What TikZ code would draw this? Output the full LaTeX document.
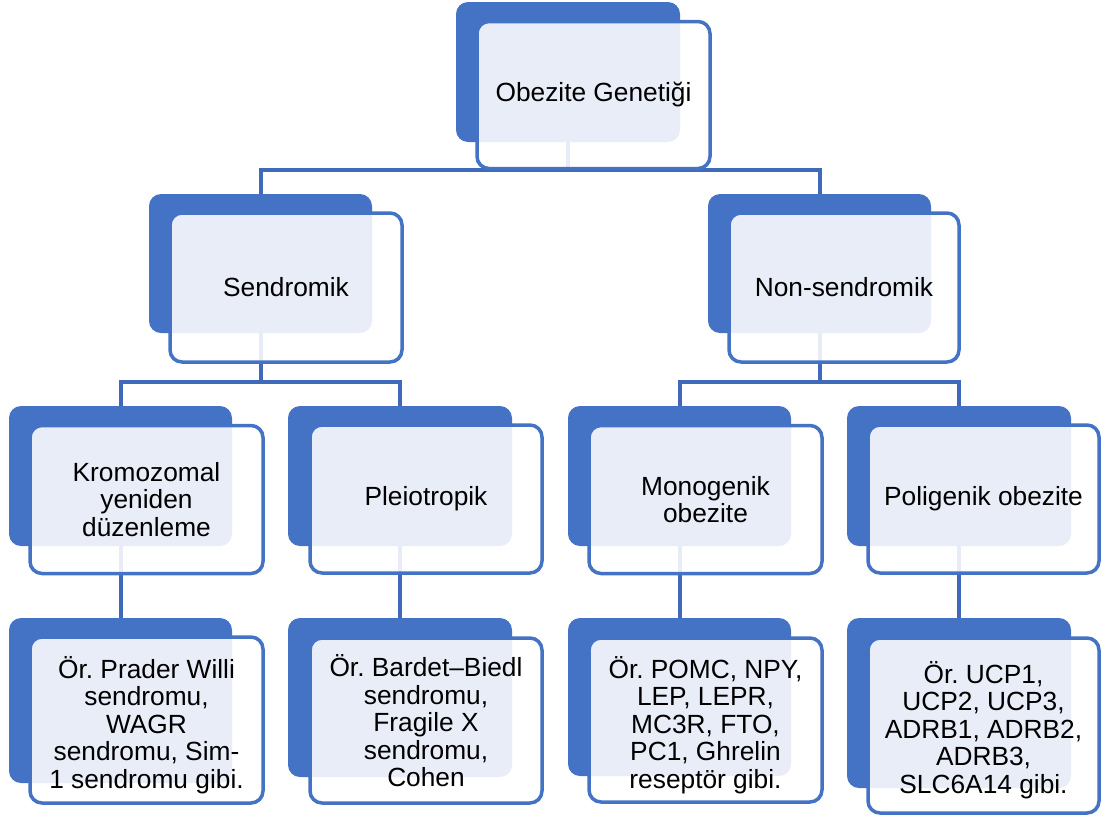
\documentclass[tikz,border=0pt]{standalone}
\usepackage{fontspec}
\setmainfont{Liberation Sans}
\usetikzlibrary{backgrounds}
\definecolor{sablue}{HTML}{4472C4}
\definecolor{conblue}{HTML}{4169BA}
\frenchspacing
\tikzset{
  darkbox/.style={draw=none, fill=sablue, rounded corners=12pt, inner sep=0pt},
  frontbox/.style={draw=sablue, line width=3.5pt, fill=white, fill opacity=0.88,
    text opacity=1, rounded corners=12pt, align=center, inner sep=0pt,
    font=\fontsize{26.3}{27.5}\selectfont},
  txt/.style={align=center, inner sep=0pt, font=\fontsize{26.3}{27.5}\selectfont},
  conn/.style={draw=conblue, line width=4pt}
}
\begin{document}
\begin{tikzpicture}[x=1pt,y=-1pt]
\useasboundingbox (0,0) rectangle (1103,820);
% level 1
\node[darkbox, minimum width=224, minimum height=140] (top-d) at (568,72) {};
\node[frontbox, minimum width=233, minimum height=147] (top) at (593.5,95) {Obezite Genetiği};
% level 2
\node[darkbox, minimum width=223, minimum height=139] (sen-d) at (260.5,263.5) {};
\node[frontbox, minimum width=232, minimum height=149] (sen) at (286,287.5) {Sendromik};
\node[darkbox, minimum width=223, minimum height=139] (non-d) at (819.5,263.5) {};
\node[frontbox, minimum width=230, minimum height=149] (non) at (844,287.5) {Non-sendromik};
% level 3
\node[darkbox, minimum width=223, minimum height=140] (kro-d) at (120.5,476) {};
\node[frontbox, minimum width=233, minimum height=148] (kro) at (146.5,499.5) {Kromozomal\\yeniden\\düzenleme};
\node[darkbox, minimum width=224, minimum height=140] (ple-d) at (400,476) {};
\node[frontbox, minimum width=232, minimum height=148] (ple) at (426,499) {Pleiotropik};
\node[darkbox, minimum width=223, minimum height=140] (mon-d) at (679.5,476) {};
\node[frontbox, minimum width=233, minimum height=148] (mon) at (705.5,499.5) {Monogenik\\obezite};
\node[darkbox, minimum width=224, minimum height=140] (pol-d) at (959,476) {};
\node[frontbox, minimum width=231, minimum height=148] (pol) at (983.5,499) {Poligenik obezite};
% level 4
\node[darkbox, minimum width=223, minimum height=165] (kro2-d) at (120.5,700.5) {};
\node[frontbox, minimum width=233, minimum height=166] (kro2) at (146.5,720) {};
\node[txt] (kro2-t) at (146.5,725) {Ör. Prader Willi\\sendromu,\\WAGR\\sendromu, Sim-\\1 sendromu gibi.};
\node[darkbox, minimum width=224, minimum height=159] (ple2-d) at (400,697.5) {};
\node[frontbox, minimum width=232, minimum height=165] (ple2) at (426,720.5) {};
\node[txt] (ple2-t) at (426,721) {Ör. Bardet–Biedl\\sendromu,\\Fragile X\\sendromu,\\Cohen};
\node[darkbox, minimum width=223, minimum height=158] (mon2-d) at (679.5,697) {};
\node[frontbox, minimum width=233, minimum height=164] (mon2) at (705.5,720) {};
\node[txt] (mon2-t) at (705.5,725) {Ör. POMC, NPY,\\LEP, LEPR,\\MC3R, FTO,\\PC1, Ghrelin\\reseptör gibi.};
\node[darkbox, minimum width=224, minimum height=170] (pol2-d) at (959,703) {};
\node[frontbox, minimum width=231, minimum height=175] (pol2) at (983.5,725.5) {};
\node[txt] (pol2-t) at (983.5,730) {Ör. UCP1,\\UCP2, UCP3,\\ADRB1, ADRB2,\\ADRB3,\\SLC6A14 gibi.};
% connectors
\coordinate (bar1) at (0,170);
\coordinate (bar2) at (0,382);
\begin{pgfonlayer}{background}
\draw[conn] (top-d.south) -- (top-d.south |- bar1) -| (sen-d.north);
\draw[conn] (top-d.south) -- (top-d.south |- bar1) -| (non-d.north);
\draw[conn] (sen-d.south) -- (sen-d.south |- bar2) -| (kro-d.north);
\draw[conn] (sen-d.south) -- (sen-d.south |- bar2) -| (ple-d.north);
\draw[conn] (non-d.south) -- (non-d.south |- bar2) -| (mon-d.north);
\draw[conn] (non-d.south) -- (non-d.south |- bar2) -| (pol-d.north);
\draw[conn] (kro-d.south) -- (kro2-d.north);
\draw[conn] (ple-d.south) -- (ple2-d.north);
\draw[conn] (mon-d.south) -- (mon2-d.north);
\draw[conn] (pol-d.south) -- (pol2-d.north);
\end{pgfonlayer}
\end{tikzpicture}
\end{document}
